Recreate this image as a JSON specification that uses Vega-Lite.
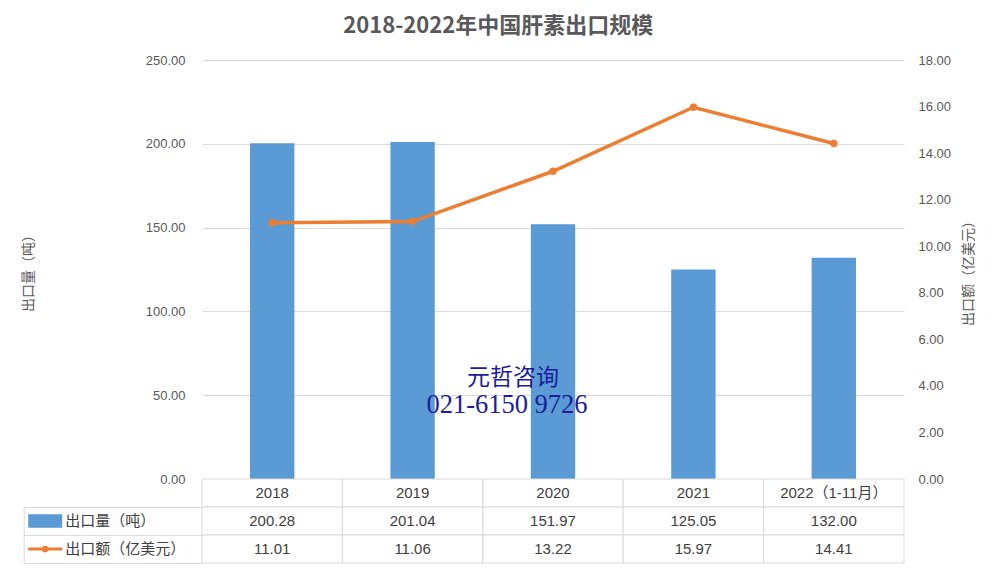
{
  "$schema": "https://vega.github.io/schema/vega-lite/v6.json",
  "background": "white",
  "padding": {"left": 21, "top": 15, "right": 5, "bottom": 5},
  "title": {
    "text": "2018-2022年中国肝素出口规模",
    "font": "Noto Sans CJK SC",
    "fontSize": 22,
    "fontWeight": "bold",
    "color": "#595959",
    "anchor": "middle",
    "offset": 16
  },
  "datasets": {
    "main": [
      {"year": "2018", "qty": 200.28, "amt": 11.01},
      {"year": "2019", "qty": 201.04, "amt": 11.06},
      {"year": "2020", "qty": 151.97, "amt": 13.22},
      {"year": "2021", "qty": 125.05, "amt": 15.97},
      {"year": "2022（1-11月）", "qty": 132.0, "amt": 14.41}
    ],
    "series": [
      {"key": "qty", "name": "出口量（吨）"},
      {"key": "amt", "name": "出口额（亿美元）"}
    ],
    "wm": [{"t1": "元哲咨询", "t2": "021-6150 9726"}]
  },
  "spacing": 0,
  "bounds": "flush",
  "vconcat": [
    {
      "width": 702,
      "height": 419,
      "data": {"name": "main"},
      "layer": [
        {
          "layer": [
            {
              "mark": {"type": "bar", "color": "#5b9bd5"},
              "encoding": {
                "x": {"field": "year", "type": "nominal", "scale": {"paddingInner": 0.684, "paddingOuter": 0.342}, "axis": null},
                "y": {
                  "field": "qty", "type": "quantitative",
                  "scale": {"domain": [0, 250], "nice": false},
                  "axis": {
                    "values": [0, 50, 100, 150, 200, 250],
                    "format": ".2f",
                    "title": "出口量（吨）",
                    "titleFontSize": 14,
                    "titleFontWeight": "normal",
                    "titleColor": "#595959",
                    "titlePadding": 109,
                    "minExtent": 58,
                    "maxExtent": 58,
                    "labelPadding": 17,
                    "labelFontSize": 13,
                    "labelColor": "#595959",
                    "ticks": false,
                    "tickSize": 0,
                    "domain": false,
                    "grid": true,
                    "gridColor": "#d9d9d9"
                  }
                }
              }
            },
            {
              "data": {"name": "wm"},
              "mark": {"type": "text", "font": "Noto Sans CJK SC", "fontSize": 23, "color": "#1c1c9c", "dx": -40, "baseline": "middle"},
              "encoding": {
                "x": {"datum": "2020"},
                "y": {"datum": 60, "type": "quantitative", "scale": {"domain": [0, 250], "nice": false}},
                "text": {"field": "t1"}
              }
            },
            {
              "data": {"name": "wm"},
              "mark": {"type": "text", "font": "Liberation Serif", "fontSize": 26.5, "color": "#1c1c9c", "dx": -46, "baseline": "middle"},
              "encoding": {
                "x": {"datum": "2020"},
                "y": {"datum": 44, "type": "quantitative", "scale": {"domain": [0, 250], "nice": false}},
                "text": {"field": "t2"}
              }
            }
          ]
        },
        {
          "mark": {"type": "line", "color": "#ed7d31", "strokeWidth": 3.5, "point": {"filled": true, "size": 55, "color": "#ed7d31", "opacity": 1}},
          "encoding": {
            "x": {"field": "year", "type": "nominal"},
            "y": {
              "field": "amt", "type": "quantitative",
              "scale": {"domain": [0, 18], "nice": false},
              "axis": {
                "orient": "right",
                "values": [0, 2, 4, 6, 8, 10, 12, 14, 16, 18],
                "format": ".2f",
                "title": "出口额（亿美元）",
                "titleAngle": 270,
                "titleBaseline": "top",
                "titleFontSize": 14,
                "titleFontWeight": "normal",
                "titleColor": "#595959",
                "titlePadding": 11,
                "labelPadding": 14,
                "labelFontSize": 13,
                "labelColor": "#595959",
                "ticks": false,
                "tickSize": 0,
                "domain": false,
                "grid": false
              }
            }
          }
        }
      ],
      "resolve": {"scale": {"y": "independent"}}
    },
    {
      "width": 702,
      "height": 84,
      "data": {"name": "main"},
      "layer": [
        {
          "mark": {"type": "rect", "fill": "white", "stroke": "#d9d9d9", "strokeWidth": 1},
          "encoding": {
            "x": {"field": "year", "type": "nominal", "scale": {"paddingInner": 0, "paddingOuter": 0}, "axis": null},
            "y": {
              "datum": "year", "type": "nominal",
              "scale": {"domain": ["year", "qty", "amt"], "paddingInner": 0, "paddingOuter": 0},
              "axis": {"orient": "left", "bandPosition": 1, "ticks": true, "tickSize": 178, "tickColor": "#d9d9d9", "tickWidth": 1, "labels": false, "domain": false, "grid": false, "title": null}
            }
          }
        },
        {
          "transform": [{"fold": ["qty", "amt"], "as": ["key", "val"]}],
          "mark": {"type": "rect", "fill": "white", "stroke": "#d9d9d9", "strokeWidth": 1},
          "encoding": {
            "x": {"field": "year", "type": "nominal"},
            "y": {"field": "key", "type": "nominal"}
          }
        },
        {
          "mark": {"type": "text", "fontSize": 15, "color": "#404040", "baseline": "middle"},
          "encoding": {
            "x": {"field": "year", "type": "nominal"},
            "y": {"datum": "year", "type": "nominal"},
            "text": {"field": "year"}
          }
        },
        {
          "transform": [{"fold": ["qty", "amt"], "as": ["key", "val"]}],
          "mark": {"type": "text", "fontSize": 15, "color": "#404040", "baseline": "middle"},
          "encoding": {
            "x": {"field": "year", "type": "nominal"},
            "y": {"field": "key", "type": "nominal"},
            "text": {"field": "val", "type": "quantitative", "format": ".2f"}
          }
        },
        {
          "data": {"name": "series"},
          "transform": [{"filter": "datum.key === 'qty'"}],
          "mark": {"type": "point", "shape": "M-1,-0.4H1V0.4H-1Z", "size": 1156, "filled": true, "color": "#5b9bd5", "opacity": 1, "xOffset": -227},
          "encoding": {
            "x": {"datum": "2018"},
            "y": {"field": "key", "type": "nominal"}
          }
        },
        {
          "data": {"name": "series"},
          "transform": [{"filter": "datum.key === 'amt'"}],
          "mark": {"type": "point", "shape": "M-1,0H1", "size": 1156, "filled": false, "color": "#ed7d31", "strokeWidth": 3, "opacity": 1, "xOffset": -227},
          "encoding": {
            "x": {"datum": "2018"},
            "y": {"field": "key", "type": "nominal"}
          }
        },
        {
          "data": {"name": "series"},
          "transform": [{"filter": "datum.key === 'amt'"}],
          "mark": {"type": "point", "shape": "circle", "size": 45, "filled": true, "color": "#ed7d31", "opacity": 1, "xOffset": -227},
          "encoding": {
            "x": {"datum": "2018"},
            "y": {"field": "key", "type": "nominal"}
          }
        },
        {
          "data": {"name": "series"},
          "transform": [{"filter": "datum.key === 'amt'"}],
          "mark": {"type": "point", "shape": "M0,-1V1", "size": 3136, "filled": false, "color": "#d9d9d9", "strokeWidth": 1, "opacity": 1, "xOffset": -248, "yOffset": -14},
          "encoding": {
            "x": {"datum": "2018"},
            "y": {"field": "key", "type": "nominal"}
          }
        },
        {
          "data": {"name": "series"},
          "mark": {"type": "text", "align": "left", "dx": -207, "fontSize": 15, "color": "#404040", "baseline": "middle"},
          "encoding": {
            "x": {"datum": "2018"},
            "y": {"field": "key", "type": "nominal"},
            "text": {"field": "name"}
          }
        }
      ]
    }
  ],
  "config": {
    "font": "Liberation Sans, Noto Sans CJK SC",
    "view": {"stroke": null}
  }
}
